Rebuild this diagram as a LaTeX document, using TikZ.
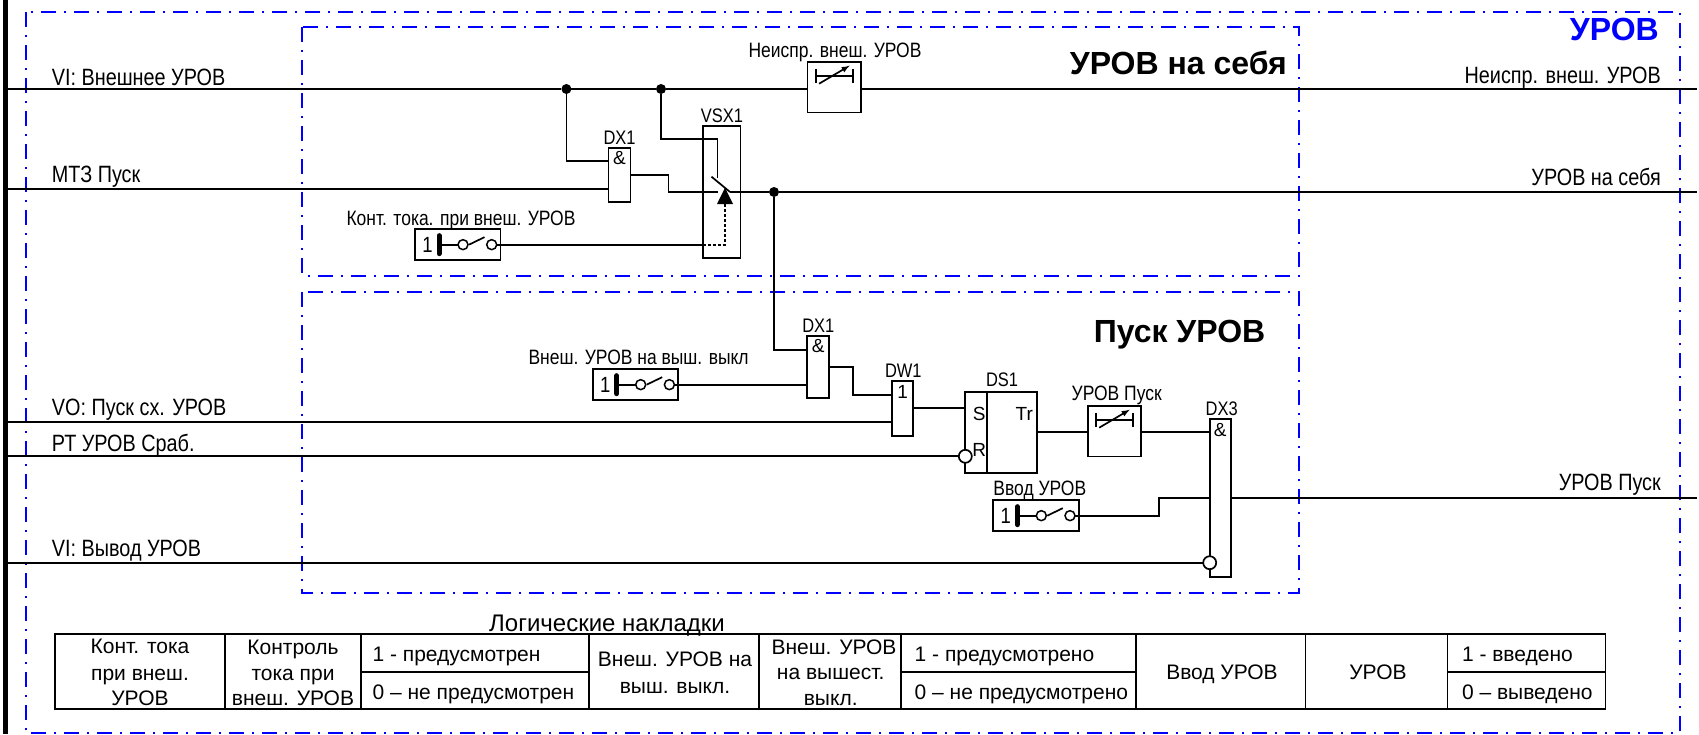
\documentclass[tikz,border=0pt]{standalone}
\usepackage{fontspec}
\setmainfont{Liberation Sans}
\newfontfamily\narrowfont[FakeStretch=0.84]{Liberation Sans}
\usepackage{tikz}
\usetikzlibrary{calc,positioning}
\tikzset{
	bus/.style={line width=2pt},
	wire/.style={line width=1.7pt},
	frame/.style={blue,line width=2pt,dash pattern=on 15pt off 8pt on 2pt off 8pt},
	block/.style={draw,line width=1.7pt,inner sep=0pt,outer sep=0pt,anchor=north west},
	swbox/.style={block,minimum width=85.6pt,minimum height=30.7pt},
	tmbox/.style={block,minimum width=53.4pt,minimum height=50.8pt},
	jdot/.style={circle,fill=black,inner sep=0pt,outer sep=0pt,minimum size=10pt},
	contact/.style={circle,draw,line width=1.5pt,inner sep=0pt,outer sep=0pt,minimum size=10pt},
	invert/.style={circle,draw,fill=white,line width=1.7pt,inner sep=0pt,outer sep=0pt,minimum size=13pt},
	sig/.style={inner sep=0pt,font={\fontsize{23.6}{25}\narrowfont},anchor=base west},
	sigr/.style={sig,anchor=base east},
	tag/.style={inner sep=0pt,font={\fontsize{20.8}{23}\narrowfont},anchor=base},
	devtag/.style={tag,font={\fontsize{19.6}{21}\narrowfont}},
	glyph/.style={inner sep=0pt,font={\fontsize{19}{20}\selectfont}},
	digit/.style={inner sep=0pt,font={\fontsize{22}{23}\narrowfont}},
	title/.style={inner sep=0pt,font={\fontsize{32}{34}\bfseries\selectfont},anchor=base east},
	cell/.style={inner sep=0pt,font={\fontsize{21}{23}\selectfont},anchor=base},
	cellw/.style={cell,anchor=base west}
}
\begin{document}
\begin{tikzpicture}[x=1pt,y=-1pt]
	\useasboundingbox (0,0) rectangle (1699,734);
	\fill[black] (3,0) rectangle (8.4,734);
	\draw[frame] (26,12) rectangle (1680,732.7);
	\draw[frame] (302,27.3) rectangle (1299,275.7);
	\draw[frame] (302,292) rectangle (1299,592.7);

	\coordinate (via) at (8,89);
	\coordinate (viz) at (1697,89);
	\coordinate (mza) at (8,188.7);
	\coordinate (urz) at (1697,192);
	\coordinate (voa) at (8,422.3);
	\coordinate (rta) at (8,456.3);
	\coordinate (vva) at (8,562.7);
	\coordinate (puz) at (1697,497.7);

	\node[sig] (tvi) at (51.7,85) {VI: Внешнее УРОВ};
	\node[sig] (tmz) at (51.7,182.7) {МТЗ Пуск};
	\node[sig] (tvo) at (51.7,415.5) {VO: Пуск сх. УРОВ};
	\node[sig] (trt) at (51.7,451) {РТ УРОВ Сраб.};
	\node[sig] (tvv) at (51.7,556.5) {VI: Вывод УРОВ};
	\node[sigr] (tne) at (1661,83.3) {Неиспр. внеш. УРОВ};
	\node[sigr] (tur) at (1661,185.7) {УРОВ на себя};
	\node[sigr] (tpu) at (1661,490) {УРОВ Пуск};
	\node[title,blue] (ttop) at (1659,40.7) {УРОВ};
	\node[title] (tsel) at (1287,74.7) {УРОВ на себя};
	\node[title] (tstart) at (1265.5,342) {Пуск УРОВ};

	\foreach \sw/\swx/\swy/\swt/\swc/\swb in {swcu/415/229.3/Конт. тока. при внеш. УРОВ/461/225,swext/592.7/369.3/Внеш. УРОВ на выш. выкл/638.6/364,swin/993.3/500.3/Ввод УРОВ/1039.8/495.7}{
		\node[swbox] (\sw) at (\swx,\swy) {};
		\node[tag] (\sw-t) at (\swc,\swb) {\swt};
		\node[digit] (\sw-o) at ([xshift=12.5pt]\sw.west) {1};
		\node[contact] (\sw-a) at ([xshift=48pt]\sw.west) {};
		\node[contact] (\sw-b) at ([xshift=76.7pt]\sw.west) {};
		\coordinate (\sw-k) at ([xshift=24pt]\sw.west);
		\draw[line width=5pt,line cap=round] ([yshift=9pt]\sw-k) -- ([yshift=-9pt]\sw-k);
		\draw[wire] (\sw-k) -- (\sw-a);
		\draw[wire] ([xshift=54pt]\sw.west) -- ([xshift=69.5pt,yshift=7.5pt]\sw.west);
	}

	\foreach \tm/\tmx/\tmy/\tmt/\tmc/\tmb in {tmne/807.6/61.7/Неиспр. внеш. УРОВ/835/57,tmpu/1087.7/405.7/УРОВ Пуск/1116.7/400.7}{
		\node[tmbox] (\tm) at (\tmx,\tmy) {};
		\node[tag] (\tm-t) at (\tmc,\tmb) {\tmt};
		\draw[wire] ([xshift=8.4pt,yshift=-7pt]\tm.north west) -- ([xshift=8.4pt,yshift=-21pt]\tm.north west);
		\draw[wire] ([xshift=45.2pt,yshift=-7pt]\tm.north west) -- ([xshift=45.2pt,yshift=-21pt]\tm.north west);
		\draw[wire] ([xshift=8.4pt,yshift=-14pt]\tm.north west) -- ([xshift=45.2pt,yshift=-14pt]\tm.north west);
		\draw[wire,-latex] ([xshift=11.5pt,yshift=-22pt]\tm.north west) -- ([xshift=42pt,yshift=-4pt]\tm.north west);
	}

	\node[block,minimum width=21.9pt,minimum height=54.6pt] (dxa) at (608.5,147.7) {};
	\node[devtag] (dxa-t) at (619.6,144.3) {DX1};
	\node[glyph,below=3pt of dxa.north] (dxa-m) {\&};
	\node[block,minimum width=37.9pt,minimum height=132pt] (vsx) at (702.7,126) {};
	\node[devtag] (vsx-t) at (722,122) {VSX1};
	\node[block,minimum width=21.7pt,minimum height=62.3pt] (dxb) at (807.3,335.7) {};
	\node[devtag] (dxb-t) at (818.3,332.7) {DX1};
	\node[glyph,below=3pt of dxb.north] (dxb-m) {\&};
	\node[block,minimum width=21.3pt,minimum height=54.7pt] (dwa) at (892,381) {};
	\node[devtag] (dwa-t) at (903.3,377.7) {DW1};
	\node[glyph,below=4pt of dwa.north] (dwa-m) {1};
	\node[block,minimum width=72.3pt,minimum height=80.4pt] (dsa) at (965,392.3) {};
	\node[devtag] (dsa-t) at (1002,386.7) {DS1};
	\node[glyph] (dsa-s) at (979.3,414) {S};
	\node[glyph] (dsa-r) at (979.3,450) {R};
	\node[glyph] (dsa-q) at (1024.3,414) {Tr};
	\draw[wire] (986.7,392.3) -- (986.7,472.7);
	\node[block,minimum width=21pt,minimum height=157.7pt] (dxc) at (1209.7,419) {};
	\node[devtag] (dxc-t) at (1221.7,415.7) {DX3};
	\node[glyph,below=4pt of dxc.north] (dxc-m) {\&};

	\node[jdot] (ja) at (566.4,89) {};
	\node[jdot] (jb) at (661,89) {};
	\node[jdot] (jc) at (774,192) {};
	\node[invert] (ira) at (965.3,456.3) {};
	\node[invert] (irb) at (1209.7,562.7) {};

	\coordinate (ina) at (608.5,161.3);
	\coordinate (outa) at (630.4,174.7);
	\coordinate (benda) at (668.6,192);
	\coordinate (swa) at (718.4,192);
	\coordinate (swz) at (730,192);
	\coordinate (leva) at (711.5,176.7);
	\coordinate (vstop) at (717.6,139.3);
	\coordinate (vslev) at (717.6,178);
	\coordinate (dsh) at (725,204);
	\coordinate (inb) at (807.3,349.7);
	\coordinate (outb) at (829,366.7);
	\coordinate (bendb) at (853.3,394.7);
	\coordinate (inw) at (892,394.7);
	\coordinate (outw) at (913.3,408.3);
	\coordinate (outd) at (1037.3,432.3);
	\coordinate (bendc) at (1159.3,497.7);

	\draw[bus] (via) -- (ja) -- (jb) -- (jb -| tmne.west);
	\draw[bus] (jb -| tmne.east) -- (viz);
	\draw[wire] (ja) |- (ina);
	\draw[bus] (mza) -- (mza -| dxa.west);
	\draw[wire] (outa) -| (benda) -- (swa);
	\draw[wire] (jb) |- (vstop) -- (vslev);
	\draw[wire] (leva) -- (swz);
	\draw[bus] (swz) -- (jc) -- (urz);
	\draw[wire] (swcu-b) -- (swcu-b -| vsx.west);
	\draw[wire,densely dashed] (swcu-b -| vsx.west) -| (dsh);
	\fill (725,187.7) -- (717,204) -- (733,204) -- cycle;
	\draw[wire] (jc) |- (inb);
	\draw[wire] (swext-b) -- (swext-b -| dxb.west);
	\draw[wire] (outb) -| (bendb) -- (inw);
	\draw[bus] (voa) -- (voa -| dwa.west);
	\draw[wire] (outw) -- (outw -| dsa.west);
	\draw[bus] (rta) -- (ira);
	\draw[wire] (outd) -- (outd -| tmpu.west);
	\draw[wire] (outd -| tmpu.east) -- (outd -| dxc.west);
	\draw[wire] (swin-b) -| (bendc) -- (bendc -| dxc.west);
	\draw[bus] (puz -| dxc.east) -- (puz);
	\draw[bus] (vva) -- (irb);

	\node[cell,font={\fontsize{24}{26}\selectfont}] (tlog) at (607,631) {Логические накладки};
	\draw[wire] (55,634) rectangle (1605.5,709.3);
	\foreach \colx in {225,360.7,588.8,759.2,901.3,1136,1305.5,1447.4}{
		\draw[wire] (\colx,634) -- (\colx,709.3);
	}
	\foreach \cola/\colb in {360.7/588.8,901.3/1136,1447.4/1605.5}{
		\draw[wire] (\cola,671.7) -- (\colb,671.7);
	}
	\node[cell] (ca) at (140,653.3) {Конт. тока};
	\node[cell] (cb) at (140,680) {при внеш.};
	\node[cell] (cc) at (140,705) {УРОВ};
	\node[cell] (cd) at (293,654) {Контроль};
	\node[cell] (ce) at (293,680) {тока при};
	\node[cell] (cf) at (293,705) {внеш. УРОВ};
	\node[cellw] (cg) at (372.4,661) {1 - предусмотрен};
	\node[cellw] (ch) at (372.4,699.3) {0 – не предусмотрен};
	\node[cell] (ci) at (675,666.7) {Внеш. УРОВ на};
	\node[cell] (cj) at (675,693.3) {выш. выкл.};
	\node[cell] (ck) at (834,654.3) {Внеш. УРОВ};
	\node[cell] (cl) at (830.7,679.3) {на вышест.};
	\node[cell] (cm) at (830.7,705) {выкл.};
	\node[cellw] (cn) at (914.5,661) {1 - предусмотрено};
	\node[cellw] (co) at (914.5,699.3) {0 – не предусмотрено};
	\node[cell] (cp) at (1222,679.3) {Ввод УРОВ};
	\node[cell] (cq) at (1378,679.3) {УРОВ};
	\node[cellw] (cr) at (1461.8,661) {1 - введено};
	\node[cellw] (cs) at (1461.8,699.3) {0 – выведено};
\end{tikzpicture}
\end{document}
